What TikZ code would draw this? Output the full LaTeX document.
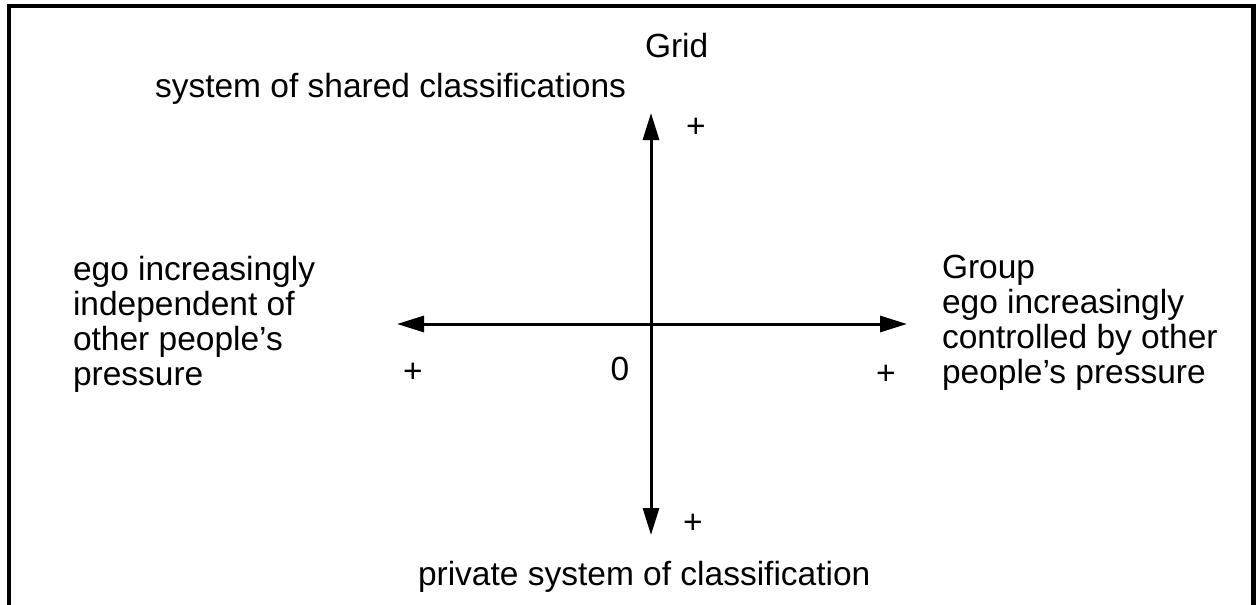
\documentclass[tikz,border=0pt]{standalone}
\usepackage{fontspec}
\setmainfont{Liberation Sans}
\usetikzlibrary{arrows.meta}
\begin{document}
\begin{tikzpicture}[x=1pt,y=-1pt,
  lbl/.style={inner sep=0pt,outer sep=0pt,font=\fontsize{33.5}{35}\selectfont,align=left},
  axis/.style={line width=3pt,{Triangle[length=27pt,width=16pt]}-{Triangle[length=27pt,width=16pt]}},
  frame/.style={line width=4.5pt}]
\useasboundingbox (0,0) rectangle (1256,605);
\fill[white] (0,0) rectangle (1256,605);
% frame (open at bottom)
\draw[frame] (9,605) -- (9,6) -- (1253.5,6) -- (1253.5,605);
% axes end points
\coordinate (ytop) at (651,113);
\coordinate (ybot) at (651,535);
\coordinate (xleft) at (397,324);
\coordinate (xright) at (907,324);
\draw[axis] (ybot) -- (ytop);
\draw[axis] (xleft) -- (xright);
% texts
\node[lbl,anchor=base west] (grid) at (645,57) {Grid};
\node[lbl,anchor=base west] (shared) at (155,97) {system of shared classifications};
\node[lbl,anchor=base west] (private) at (418,585) {private system of classification};
\node[lbl,anchor=base west] (left) at (73,385) {ego increasingly\\independent of\\other people’s\\pressure};
\node[lbl,anchor=base west] (right) at (942,383) {Group\\ego increasingly\\controlled by other\\people’s pressure};
\node[lbl,anchor=base] (zero) at (620,380) {0};
\node[lbl,anchor=base] (ptop) at (696,137) {+};
\node[lbl,anchor=base] (pleft) at (413,382) {+};
\node[lbl,anchor=base] (pright) at (886,384) {+};
\node[lbl,anchor=base] (pbot) at (693,533) {+};
\end{tikzpicture}
\end{document}
